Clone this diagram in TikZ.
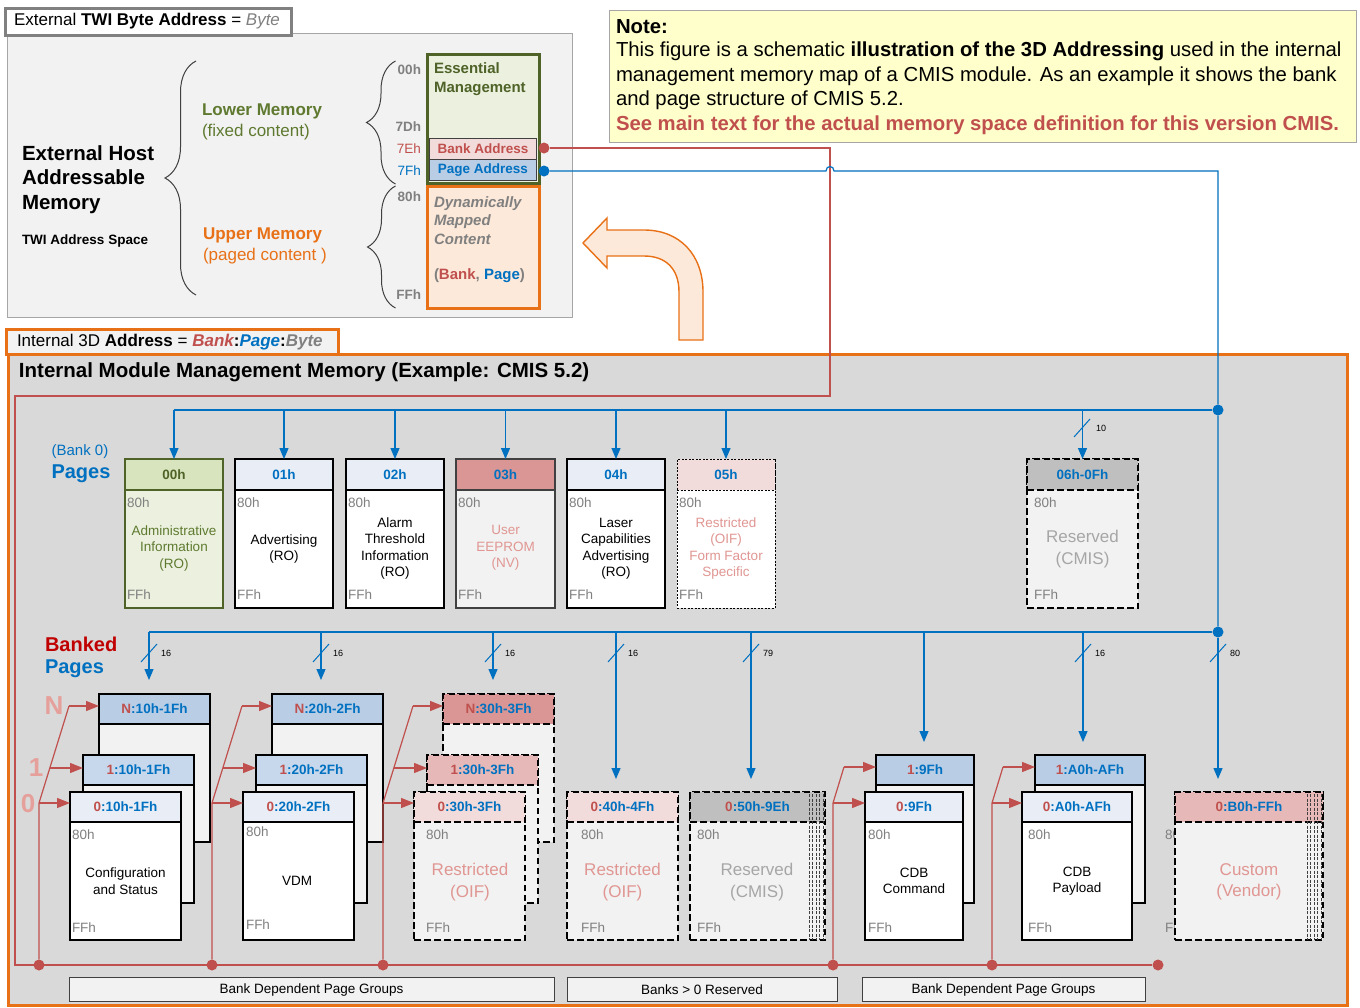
\documentclass[tikz,border=0pt]{standalone}
\usepackage{fontspec}
\setmainfont{Liberation Sans}
\usetikzlibrary{arrows.meta,decorations.pathreplacing}
\definecolor{cblue}{RGB}{0,112,192}
\definecolor{cred}{RGB}{192,80,77}
\definecolor{cdred}{RGB}{192,0,0}
\definecolor{cgreen}{RGB}{95,122,48}
\definecolor{cgreenb}{RGB}{79,98,40}
\definecolor{corange}{RGB}{232,113,23}
\definecolor{lgreen}{RGB}{235,241,222}
\definecolor{mgreen}{RGB}{215,228,189}
\definecolor{lpink}{RGB}{242,220,219}
\definecolor{mpink}{RGB}{230,185,184}
\definecolor{dpink}{RGB}{217,150,148}
\definecolor{tpink}{RGB}{224,150,146}
\definecolor{npink}{RGB}{230,160,155}
\definecolor{bgray}{RGB}{185,205,229}
\definecolor{bgray2}{RGB}{200,216,236}
\definecolor{lblue}{RGB}{233,238,246}
\definecolor{lgray}{RGB}{242,242,242}
\definecolor{mgray}{RGB}{217,217,217}
\definecolor{hgray}{RGB}{191,191,191}
\definecolor{tgray}{RGB}{128,128,128}
\definecolor{rgray}{RGB}{166,166,166}
\definecolor{dgray}{RGB}{64,64,64}
\definecolor{peach}{RGB}{253,233,217}
\definecolor{noteyel}{RGB}{255,255,204}
\newcommand\fsz[2]{\fontsize{#1}{#2}\selectfont}
\begin{document}
\begin{tikzpicture}[x=1pt,y=-1pt,
  t/.style={inner sep=0pt,outer sep=0pt},
  bx/.style={t,anchor=north west,draw=black,line width=1.2pt},
  hd/.style={bx,font=\fsz{13.5}{16}\bfseries,text=cblue},
  addr/.style={t,anchor=west,text=tgray,font=\fsz{13.5}{16}},
  body/.style={t,align=center,font=\fsz{13.5}{16.5}},
  bigbody/.style={t,align=center,font=\fsz{17}{21.5}},
  dsh/.style={dash pattern=on 6.5pt off 3.5pt,line width=1.5pt},
  dotl/.style={dash pattern=on 2pt off 1.5pt,line width=1pt},
  bl/.style={draw=cblue,line width=1.2pt},
  barr/.style={bl,-{Triangle[length=11pt,width=9pt]}},
  rl/.style={draw=cred,line width=1.2pt},
  rarr/.style={rl,-{Triangle[length=13pt,width=10pt]}},
  sl/.style={t,anchor=west,font=\fsz{9}{10}},
  rdot/.style={circle,fill=cred,minimum size=11pt,inner sep=0pt},
  bdot/.style={circle,fill=cblue,minimum size=11pt,inner sep=0pt},
  brc/.style={draw=dgray,line width=1pt,decorate,decoration={brace,amplitude=#1}},
  hatch/.style={draw=dgray,line width=0.8pt,dash pattern=on 3pt off 1.5pt},
  notet/.style={t,anchor=west,font=\fsz{20.3}{24}},
  lbox/.style={t,draw=dgray,fill=lgray,line width=1pt,minimum height=24pt,font=\fsz{13.5}{16}}
]
\useasboundingbox (0,0) rectangle (1360,1007);
\fill[white] (0,0) rectangle (1360,1007);

% ---------- top-left panel ----------
\node[t,anchor=north west,minimum width=565,minimum height=284,fill=lgray,draw=rgray,line width=1pt] (panel) at (7,33) {};
\node[t,anchor=north west,minimum width=286,minimum height=27,fill=white,draw=tgray,line width=3pt] (twibox) at (5,8) {};
\node[t,anchor=west,font=\fsz{17}{20}] (twi) at (14,21) {External \textbf{TWI Byte Address} = {\color{tgray}\itshape Byte}};
\node[t,anchor=west,align=left,font=\fsz{20.5}{24.5}\bfseries] (ehost) at (22,179.5) {External Host\\Addressable\\Memory};
\node[t,anchor=west,font=\fsz{13.5}{16}\bfseries] (twias) at (22,241) {TWI Address Space};
\draw[brc=31pt] (196,295) -- (196,61);
\node[t,anchor=west,font=\fsz{17}{20}\bfseries,text=cgreen] (lm) at (202,111) {Lower Memory};
\node[t,anchor=west,font=\fsz{17}{20},text=cgreen] (lmf) at (202,132) {(fixed content)};
\node[t,anchor=west,font=\fsz{17}{20}\bfseries,text=corange] (um) at (203,235) {Upper Memory};
\node[t,anchor=west,font=\fsz{17}{20},text=corange] (ump) at (203,256) {(paged content )};
\draw[brc=29pt] (395.5,184) -- (395.5,61);
\draw[brc=28pt] (395.5,308) -- (395.5,186);
\node[t,anchor=east,font=\fsz{13.5}{16}\bfseries,text=tgray] (a00) at (421,70) {00h};
\node[t,anchor=east,font=\fsz{13.5}{16}\bfseries,text=tgray] (a7d) at (421,127) {7Dh};
\node[t,anchor=east,font=\fsz{13.5}{16},text=cred] (a7e) at (421,149) {7Eh};
\node[t,anchor=east,font=\fsz{13.5}{16},text=cblue] (a7f) at (421,171) {7Fh};
\node[t,anchor=east,font=\fsz{13.5}{16}\bfseries,text=tgray] (a80) at (421,197) {80h};
\node[t,anchor=east,font=\fsz{13.5}{16}\bfseries,text=tgray] (aff) at (421,295) {FFh};
\node[t,anchor=north west,minimum width=112,minimum height=129,fill=lgreen,draw=cgreenb,line width=3pt] (ess) at (427,54) {};
\node[t,anchor=west,align=left,font=\fsz{15}{19}\bfseries,text=cgreenb] (esst) at (434,79.5) {Essential\\Management};
\node[t,anchor=north west,minimum width=107,minimum height=21,fill=lpink,draw=dgray,line width=1pt,font=\fsz{13.5}{16}\bfseries,text=cred] (bank) at (429.5,138) {Bank Address};
\node[t,anchor=north west,minimum width=107,minimum height=21,fill=bgray,draw=dgray,line width=1pt,font=\fsz{13.5}{16}\bfseries,text=cblue] (page) at (429.5,159.5) {Page Address};
\node[t,anchor=north west,minimum width=112,minimum height=122,fill=peach,draw=corange,line width=3pt] (dyn) at (427,186) {};
\node[t,anchor=west,align=left,font=\fsz{15}{18.5}\bfseries\itshape,text=tgray] (dynt) at (434,220.5) {Dynamically\\Mapped\\Content};
\node[t,anchor=west,font=\fsz{15}{18}\bfseries,text=tgray] (bp) at (434,276) {({\color{cred}Bank}, {\color{cblue}Page})};

% ---------- note ----------
\node[t,anchor=north west,minimum width=747,minimum height=132,fill=noteyel,draw=rgray,line width=1pt] (note) at (609,10) {};
\node[notet,font=\fsz{20.3}{24}\bfseries] (n0) at (616,27) {Note:};
\node[notet] (n1) at (616,51) {This figure is a schematic \textbf{illustration of the 3D Addressing} used in the internal};
\node[notet] (n2) at (616,76) {management memory map of a CMIS module. As an example it shows the bank};
\node[notet] (n3) at (616,100) {and page structure of CMIS 5.2.};
\node[notet,font=\fsz{20.3}{24}\bfseries,text=cred] (n4) at (616,125) {See main text for the actual memory space definition for this version CMIS.};

% ---------- curved arrow ----------
\draw[draw=corange,fill=peach,line width=1.4pt,line join=miter]
  (583,243) -- (607,218) -- (607,230) -- (644,230)
  .. controls (680,230) and (703,255) .. (703,292) -- (703,340) -- (679,340) -- (679,292)
  .. controls (679,268) and (665,256) .. (644,256) -- (607,256) -- (607,268) -- cycle;

% ---------- internal box ----------
\node[t,anchor=north west,minimum width=1339,minimum height=651,fill=mgray,draw=corange,line width=3pt] (imm) at (8,354) {};
\node[t,anchor=north west,minimum width=332,minimum height=25,fill=lgray,draw=corange,line width=3pt] (i3dbox) at (6,329) {};
\node[t,anchor=west,font=\fsz{17}{20}] (i3d) at (17,342) {Internal 3D \textbf{Address} = \textbf{\itshape\color{cred}Bank}\textbf{:}\textbf{\itshape\color{cblue}Page}\textbf{:}\textbf{\itshape\color{tgray}Byte}};
\node[t,anchor=west,font=\fsz{20.5}{24}\bfseries] (title) at (19,372) {Internal Module Management Memory (Example: CMIS 5.2)};

% ---------- address wires ----------
\node[rdot] (rd0) at (544,148) {};
\node[bdot] (bd0) at (544,171) {};
\node[rdot] (rdE) at (1158,965) {};
\draw[rl] (rd0) -- (830,148) -- (830,396) -- (15,396) -- (15,965) -- (rdE);
\node[bdot] (bd1) at (1218,410) {};
\node[bdot] (bd2) at (1218,632) {};
\draw[bl] (bd0) -- (826,171) .. controls (826,165) and (834,165) .. (834,171) -- (1218,171) -- (bd1) -- (bd2);
\coordinate (bus1) at (174,410);
\coordinate (bus2) at (149,632);
\draw[bl] (bus1) -- (bd1);
\draw[bl] (bus2) -- (bd2);

% ---------- pages row ----------
\node[t] (bank0) at (80,452) {\fsz{15}{18}\color{cblue}(Bank 0)};
\node[t,font=\fsz{20}{24}\bfseries,text=cblue] (pages) at (81,474) {Pages};

\node[bx,minimum width=98,minimum height=149,fill=lgreen,draw=cgreenb,line width=1.5pt] (p00) at (125,459) {};
\node[hd,minimum width=98,minimum height=31,fill=mgreen,draw=cgreenb,line width=1.5pt,text=cgreenb] (p00h) at (125,459) {00h};
\node[body,text=cgreen] (p00t) at (174,548) {Administrative\\Information\\(RO)};

\node[bx,minimum width=98,minimum height=149,fill=white] (p01) at (235,459) {};
\node[hd,minimum width=98,minimum height=31,fill=lblue] (p01h) at (235,459) {01h};
\node[body] (p01t) at (284,549) {Advertising\\(RO)};

\node[bx,minimum width=98,minimum height=149,fill=white] (p02) at (346,459) {};
\node[hd,minimum width=98,minimum height=31,fill=lblue] (p02h) at (346,459) {02h};
\node[body] (p02t) at (395,548.5) {Alarm\\Threshold\\Information\\(RO)};

\node[bx,minimum width=99,minimum height=149,fill=lgray,draw=dgray] (p03) at (456,459) {};
\node[hd,minimum width=99,minimum height=31,fill=dpink,draw=dgray] (p03h) at (456,459) {03h};
\node[body,text=tpink] (p03t) at (505.5,548) {User\\EEPROM\\(NV)};

\node[bx,minimum width=98,minimum height=149,fill=white] (p04) at (567,459) {};
\node[hd,minimum width=98,minimum height=31,fill=lblue] (p04h) at (567,459) {04h};
\node[body] (p04t) at (616,548.5) {Laser\\Capabilities\\Advertising\\(RO)};

\node[bx,dotl,minimum width=98,minimum height=149,fill=white] (p05) at (677,459) {};
\node[hd,dotl,minimum width=98,minimum height=31,fill=lpink] (p05h) at (677,459) {05h};
\node[body,text=tpink] (p05t) at (726,548.5) {Restricted\\(OIF)\\Form Factor\\Specific};

\node[bx,dsh,minimum width=111,minimum height=149,fill=lgray] (p06) at (1027,459) {};
\node[hd,dsh,minimum width=111,minimum height=31,fill=hgray] (p06h) at (1027,459) {06h-0Fh};
\node[bigbody,text=rgray] (p06t) at (1082.5,549) {Reserved\\(CMIS)};

\foreach \n/\x in {p00/127,p01/237,p02/348,p03/458,p04/569,p05/679,p06/1034} {
  \node[addr] (\n a) at (\x,503) {80h};
  \node[addr] (\n f) at (\x,595) {FFh};
}
\foreach \n in {p00,p01,p02,p03,p04,p05,p06} {
  \draw[barr] (\n h.north |- bus1) -- (\n h.north);
}
\draw[bl,line width=1pt] (1074,437) -- (1090,419);
\node[sl] (sl10) at (1096,428) {10};

% ---------- banked pages ----------
\node[t,anchor=west,font=\fsz{20}{24}\bfseries,text=cdred] (banked) at (45,644) {Banked};
\node[t,anchor=west,font=\fsz{20}{24}\bfseries,text=cblue] (bpages) at (45,669) {Pages};
\node[t,font=\fsz{26}{28}\bfseries,text=npink] (lN) at (54,706) {N};
\node[t,font=\fsz{26}{28}\bfseries,text=npink] (l1) at (36,768) {1};
\node[t,font=\fsz{26}{28}\bfseries,text=npink] (l0) at (28,804) {0};

% group 1
\node[bx,minimum width=111,minimum height=148,fill=lgray] (g1N) at (99,694) {};
\node[hd,minimum width=111,minimum height=30,fill=bgray] (g1Nh) at (99,694) {{\color{cred}N}:10h-1Fh};
\node[bx,minimum width=111,minimum height=148,fill=lgray] (g11) at (83,755) {};
\node[hd,minimum width=111,minimum height=30,fill=bgray2] (g11h) at (83,755) {{\color{cred}1}:10h-1Fh};
\node[bx,minimum width=111,minimum height=148,fill=white] (g10) at (70,792) {};
\node[hd,minimum width=111,minimum height=30,fill=lblue] (g10h) at (70,792) {{\color{cred}0}:10h-1Fh};
\node[addr] (g1a) at (72,835) {80h};
\node[addr] (g1f) at (72,928) {FFh};
\node[body] (g1t) at (125.5,881) {Configuration\\and Status};

% group 2
\node[bx,minimum width=111,minimum height=148,fill=lgray] (g2N) at (272,694) {};
\node[hd,minimum width=111,minimum height=30,fill=bgray] (g2Nh) at (272,694) {{\color{cred}N}:20h-2Fh};
\node[bx,minimum width=111,minimum height=148,fill=lgray] (g21) at (256,755) {};
\node[hd,minimum width=111,minimum height=30,fill=bgray2] (g21h) at (256,755) {{\color{cred}1}:20h-2Fh};
\node[bx,minimum width=111,minimum height=148,fill=white] (g20) at (243,792) {};
\node[hd,minimum width=111,minimum height=30,fill=lblue] (g20h) at (243,792) {{\color{cred}0}:20h-2Fh};
\node[addr] (g2a) at (246,832) {80h};
\node[addr] (g2f) at (246,925) {FFh};
\node[body] (g2t) at (297,881) {VDM};

% group 3
\node[bx,dsh,minimum width=111,minimum height=148,fill=lgray] (g3N) at (443,694) {};
\node[hd,dsh,minimum width=111,minimum height=30,fill=dpink] (g3Nh) at (443,694) {{\color{cred}N}:30h-3Fh};
\node[bx,dsh,minimum width=111,minimum height=148,fill=lgray] (g31) at (427,755) {};
\node[hd,dsh,minimum width=111,minimum height=30,fill=mpink] (g31h) at (427,755) {{\color{cred}1}:30h-3Fh};
\node[bx,dsh,minimum width=111,minimum height=148,fill=lgray] (g30) at (414,792) {};
\node[hd,dsh,minimum width=111,minimum height=30,fill=lpink] (g30h) at (414,792) {{\color{cred}0}:30h-3Fh};
\node[addr] (g3a) at (426,835) {80h};
\node[addr] (g3f) at (426,928) {FFh};
\node[bigbody,text=tpink] (g3t) at (470,882) {Restricted\\(OIF)};

% 40h
\node[bx,dsh,minimum width=111,minimum height=148,fill=lgray] (g4) at (567,792) {};
\node[hd,dsh,minimum width=111,minimum height=30,fill=lpink] (g4h) at (567,792) {{\color{cred}0}:40h-4Fh};
\node[addr] (g4a) at (581,835) {80h};
\node[addr] (g4f) at (581,928) {FFh};
\node[bigbody,text=tpink] (g4t) at (622.5,882) {Restricted\\(OIF)};

% 50h
\node[bx,dsh,minimum width=135,minimum height=148,fill=lgray] (g5) at (690,792) {};
\node[hd,dsh,minimum width=135,minimum height=30,fill=hgray] (g5h) at (690,792) {{\color{cred}0}:50h-9Eh};
\foreach \i in {0,...,4} \draw[hatch] (809+\i*3.5,794) -- (809+\i*3.5,940);
\node[addr] (g5a) at (697,835) {80h};
\node[addr] (g5f) at (697,928) {FFh};
\node[bigbody,text=rgray] (g5t) at (757,882) {Reserved\\(CMIS)};

% 9Fh
\node[bx,minimum width=98,minimum height=148,fill=lgray] (g61) at (876,755) {};
\node[hd,minimum width=98,minimum height=30,fill=bgray] (g61h) at (876,755) {{\color{cred}1}:9Fh};
\node[bx,minimum width=98,minimum height=148,fill=white] (g60) at (865,792) {};
\node[hd,minimum width=98,minimum height=30,fill=lblue] (g60h) at (865,792) {{\color{cred}0}:9Fh};
\node[addr] (g6a) at (868,835) {80h};
\node[addr] (g6f) at (868,928) {FFh};
\node[body] (g6t) at (914,881) {CDB\\Command};

% A0h
\node[bx,minimum width=110,minimum height=148,fill=lgray] (g71) at (1035,755) {};
\node[hd,minimum width=110,minimum height=30,fill=bgray] (g71h) at (1035,755) {{\color{cred}1}:A0h-AFh};
\node[bx,minimum width=110,minimum height=148,fill=white] (g70) at (1022,792) {};
\node[hd,minimum width=110,minimum height=30,fill=lblue] (g70h) at (1022,792) {{\color{cred}0}:A0h-AFh};
\node[addr] (g7a) at (1028,835) {80h};
\node[addr] (g7f) at (1028,928) {FFh};
\node[body] (g7t) at (1077,881) {CDB\\Payload};

% B0h
\node[addr] (g8a) at (1165,835) {80h};
\node[addr] (g8f) at (1165,928) {FFh};
\node[bx,dsh,minimum width=148,minimum height=148,fill=lgray] (g8) at (1175,792) {};
\node[hd,dsh,minimum width=148,minimum height=30,fill=mpink] (g8h) at (1175,792) {{\color{cred}0}:B0h-FFh};
\foreach \i in {0,...,4} \draw[hatch] (1307+\i*3.5,794) -- (1307+\i*3.5,940);
\node[bigbody,text=tpink] (g8t) at (1249,882) {Custom\\(Vendor)};

% blue drops to banked pages
\foreach \x/\y in {149/680,321/680,493/680,616/779,751/779,924/742,1083/742} {
  \draw[barr] (\x,632) -- (\x,\y);
}
\draw[barr] (bd2) -- (1218,779);
\foreach \x/\l in {149/16,321/16,493/16,616/16,751/79,1083/16,1218/80} {
  \draw[bl,line width=1pt] (\x-8,662) -- (\x+8,644);
  \node[sl] (sl\x) at (\x+12,653) {\l};
}

% red bank connectors
\foreach \b/\n in {39/1,212/2,383/3} {
  \node[rdot] (rd\n) at (\b,965) {};
  \draw[rl] (rd\n) -- (\b,803) -- (\b+30,706);
  \draw[rarr] (\b,803) -- (\b+31,803);
  \draw[rarr] (\b+10.8,768) -- (\b+44,768);
  \draw[rarr] (\b+30,706) -- (\b+60,706);
}
\node[rdot] (rd4) at (833,965) {};
\draw[rl] (rd4) -- (833,803) -- (844,767);
\draw[rarr] (833,803) -- (g60.west |- 0,803);
\draw[rarr] (844,767) -- (g61.west |- 0,767);
\node[rdot] (rd5) at (992,965) {};
\draw[rl] (rd5) -- (992,803) -- (1003,767);
\draw[rarr] (992,803) -- (g70.west |- 0,803);
\draw[rarr] (1003,767) -- (g71.west |- 0,767);

% bottom labels
\node[lbox,minimum width=485] (bdpg1) at (311.5,989.5) {Bank Dependent Page Groups};
\node[lbox,minimum width=270] (bres) at (702,989.5) {Banks {>} 0 Reserved};
\node[lbox,minimum width=283] (bdpg2) at (1003.5,989.5) {Bank Dependent Page Groups};
\end{tikzpicture}
\end{document}
